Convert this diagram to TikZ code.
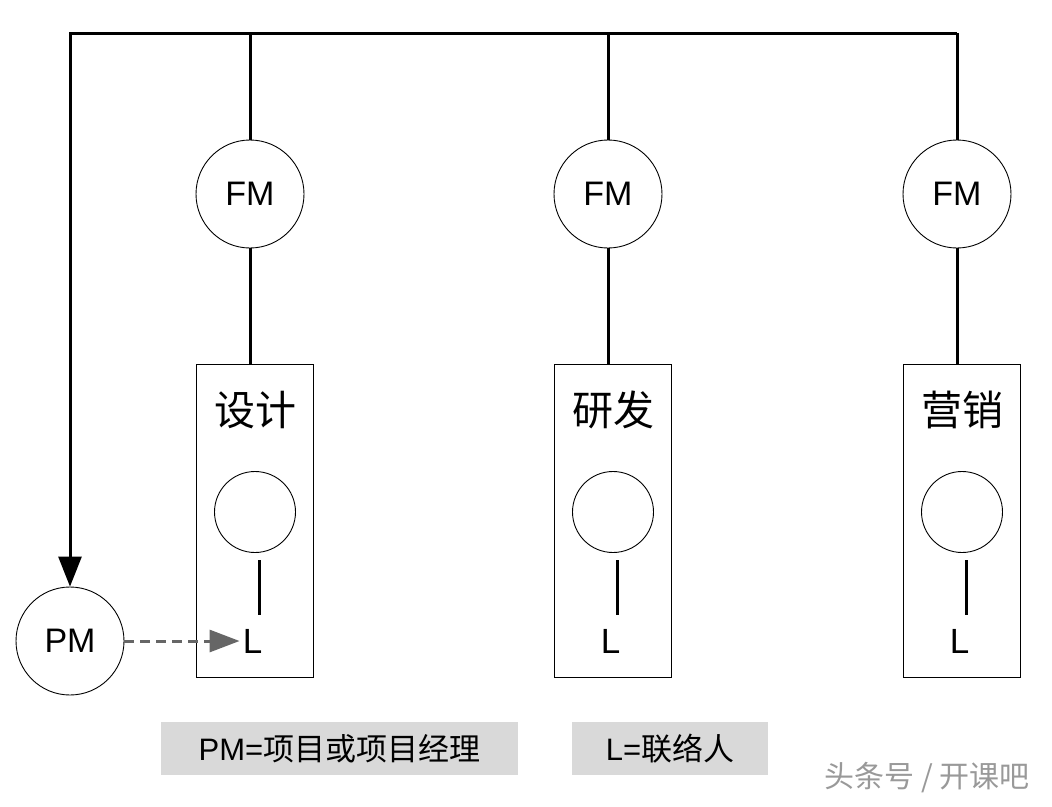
\documentclass[tikz,border=0pt]{standalone}
\usepackage{fontspec}
\setmainfont{Liberation Sans}
\newfontfamily\cjk{Noto Sans CJK SC}
\usetikzlibrary{arrows.meta}

\begin{document}
\begin{tikzpicture}[x=1pt,y=-1pt,
  wire/.style={line width=3pt,black},
  fm/.style={draw,circle,line width=0.9pt,minimum size=108pt,inner sep=0pt,font=\fontsize{34}{34}\selectfont},
  deptbox/.style={draw,line width=0.9pt,minimum width=117pt,minimum height=313pt,inner sep=0pt},
  title/.style={inner sep=0pt,font=\fontsize{41}{41}\selectfont},
  member/.style={draw,circle,line width=0.9pt,minimum size=81pt,inner sep=0pt},
  liaison/.style={inner sep=0pt,font=\fontsize{35}{35}\selectfont},
  legend/.style={fill=black!15,minimum height=53pt,inner sep=0pt,font=\fontsize{31}{31}\selectfont}]
\useasboundingbox (0,0) rectangle (1052,806);
\newcommand{\dept}[3]{%
  \node[fm] (fm#1) at (#2-4.5,194) {FM};
  \node[deptbox] (box#1) at (#2,520.5) {};
  \node[title] (name#1) at (#2+0.5,410) {\cjk #3};
  \node[member] (mem#1) at (#2+0.5,512) {};
  \node[liaison] (l#1) at (#2-2,641) {L};
  \coordinate (up#1) at (#2+4.5,560);
  \coordinate (dn#1) at (#2+4.5,615);
  \draw[wire] (fm#1.north) -- (fm#1.north |- tl);
  \draw[wire] (fm#1.south) -- (box#1.north -| fm#1.south);
  \draw[wire] (up#1) -- (dn#1);
}

\coordinate (tl) at (70,33);
\coordinate (tr) at (957,33);
\node[fm] (pm) at (70,641) {PM};

\dept{A}{254.5}{设计}
\dept{B}{612.5}{研发}
\dept{C}{961.5}{营销}

\draw[wire,-{Triangle[length=30pt,width=23pt]}] (tr) -- (tl) -- (pm.north);
\draw[line width=3pt,black!60,dash pattern=on 10pt off 6pt,-{Triangle[length=30pt,width=22pt]},shorten >=3pt] (pm.east) -- (lA.west);

\node[legend,minimum width=357pt] (key1) at (339.5,748.5) {PM={\cjk 项目或项目经理}};
\node[legend,minimum width=196pt] (key2) at (670,748.5) {L={\cjk 联络人}};

\node[text=black!40,font=\fontsize{30}{30}\selectfont\cjk] (mark) at (927,778) {头条号 / 开课吧};
\end{tikzpicture}
\end{document}
